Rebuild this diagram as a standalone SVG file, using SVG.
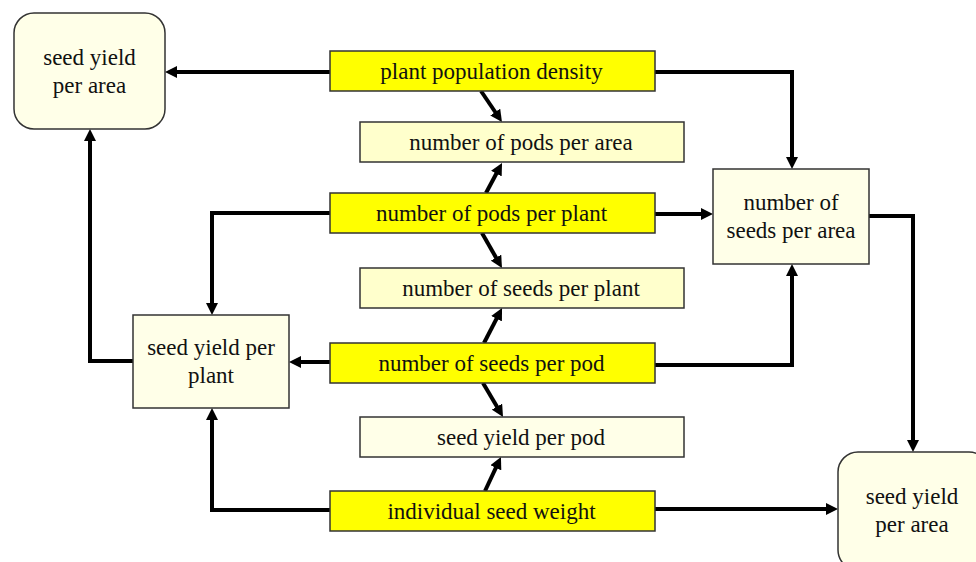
<svg xmlns="http://www.w3.org/2000/svg" width="976" height="562" viewBox="0 0 976 562">
<defs>
<marker id="ah" markerUnits="userSpaceOnUse" markerWidth="12" markerHeight="12" refX="6" refY="6" orient="auto">
<path d="M0,0 L12,6 L0,12 z" fill="#000"/>
</marker>
<style>
.y{fill:#FFFF00;stroke:#333;stroke-width:1.5}
.l{fill:#FFFFCC;stroke:#333;stroke-width:1.5}
.p{fill:#FFFFE8;stroke:#333;stroke-width:1.5}
.c{fill:none;stroke:#000;stroke-width:4;marker-end:url(#ah)}
</style>
</defs>
<rect width="976" height="562" fill="#fff"/>
<g id="connectors">
<path class="c" d="M330,72 H171"/>
<path class="c" d="M655,72 H792 V163"/>
<path class="c" d="M481,91 L498.6,117"/>
<path class="c" d="M486,193 L499.2,168.3"/>
<path class="c" d="M482,233 L499,262.8"/>
<path class="c" d="M484,343 L499.3,313.3"/>
<path class="c" d="M483,383 L500,411.8"/>
<path class="c" d="M485,491 L498.4,462.4"/>
<path class="c" d="M655,214 H707"/>
<path class="c" d="M330,213 H212 V309"/>
<path class="c" d="M330,362 H295"/>
<path class="c" d="M655,365 H792 V270"/>
<path class="c" d="M869,216 H913 V446"/>
<path class="c" d="M133,361 H90 V135"/>
<path class="c" d="M330,510 H212 V414"/>
<path class="c" d="M655,509 H832"/>
</g>
<g font-family="Liberation Serif, Times New Roman, serif" font-size="23" fill="#111" text-anchor="middle">
<g id="seed-yield-per-area-top">
<rect class="p" x="14" y="13" width="151" height="116" rx="20"/>
<text x="89.5" y="64.5">seed yield</text>
<text x="89.5" y="92.5">per area</text>
</g>
<g id="plant-population-density">
<rect class="y" x="330" y="51" width="325" height="40"/>
<text x="491.5" y="79">plant population density</text>
</g>
<g id="pods-per-area">
<rect class="l" x="360" y="122" width="324" height="40"/>
<text x="521" y="150">number of pods per area</text>
</g>
<g id="pods-per-plant">
<rect class="y" x="330" y="193" width="325" height="40"/>
<text x="491.5" y="221">number of pods per plant</text>
</g>
<g id="seeds-per-plant">
<rect class="l" x="360" y="268" width="324" height="40"/>
<text x="521" y="296">number of seeds per plant</text>
</g>
<g id="seeds-per-pod">
<rect class="y" x="330" y="343" width="325" height="40"/>
<text x="491.5" y="371">number of seeds per pod</text>
</g>
<g id="seed-yield-per-pod">
<rect class="p" x="360" y="417" width="324" height="40"/>
<text x="521" y="445">seed yield per pod</text>
</g>
<g id="individual-seed-weight">
<rect class="y" x="330" y="491" width="325" height="40"/>
<text x="491.5" y="519">individual seed weight</text>
</g>
<g id="seeds-per-area">
<rect class="p" x="713" y="169" width="156" height="95"/>
<text x="791" y="210">number of</text>
<text x="791" y="238">seeds per area</text>
</g>
<g id="seed-yield-per-plant">
<rect class="p" x="133" y="315" width="156" height="93"/>
<text x="211" y="354.5">seed yield per</text>
<text x="211" y="382.5">plant</text>
</g>
<g id="seed-yield-per-area-bottom">
<rect class="p" x="838" y="452" width="151" height="118" rx="20"/>
<text x="912" y="504">seed yield</text>
<text x="912" y="532">per area</text>
</g>
</g>
</svg>
